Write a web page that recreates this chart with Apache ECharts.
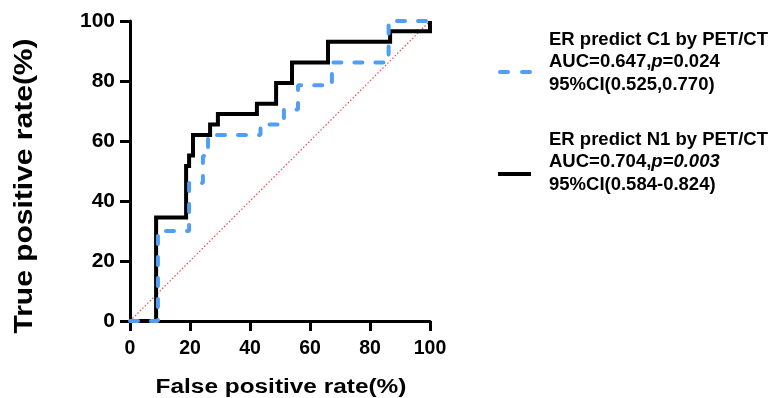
<!DOCTYPE html>
<html>
<head>
<meta charset="utf-8">
<title>ROC</title>
<script src="https://cdn.jsdelivr.net/npm/echarts@6/dist/echarts.min.js"></script>
<style>
  html, body { margin: 0; height: 100%; background: #fff; }
  #main { width: 772px; height: 398px; }
</style>
</head>
<body>
<div id="main"></div>
<script>
// ROC step points (FPR %, TPR %)
const n1Fpr = [0, 8.7, 8.7, 18.7, 18.7, 19.7, 19.7, 21, 21, 26.7, 26.7, 29.3, 29.3, 42.3, 42.3, 48.7, 48.7, 54, 54, 66, 66, 86.7, 86.7, 100, 100];
const n1Tpr = [0, 0, 34.5, 34.5, 51.7, 51.7, 55.2, 55.2, 62, 62, 65.5, 65.5, 69, 69, 72.4, 72.4, 79.3, 79.3, 86.2, 86.2, 93.1, 93.1, 96.6, 96.6, 100];
const c1Fpr = [0, 9.3, 9.3, 19.7, 19.7, 24.3, 24.3, 26, 26, 43.5, 43.5, 51.3, 51.3, 56, 56, 67.3, 67.3, 86.2, 86.2, 100];
const c1Tpr = [0, 0, 30, 30, 46, 46, 55, 55, 62, 62, 65.5, 65.5, 70.5, 70.5, 78.6, 78.6, 86.2, 86.2, 100, 100];
const refLine = [[0, 0], [100, 100]];

const legendC1 = ['ER predict C1 by PET/CT', 'AUC=0.647,{i|p}=0.024', '95%CI(0.525,0.770)'];
const legendN1 = ['ER predict N1 by PET/CT', 'AUC=0.704,{i|p=0.003}', '95%CI(0.584-0.824)'];

const FONT = '"Liberation Sans", Arial, sans-serif';
const BLUE = '#519ef4';

const zip = (xs, ys) => xs.map((x, i) => [x, ys[i]]);

function legendText(lines, top) {
    return lines.map((t, i) => ({
        type: 'text',
        x: 549,
        y: top + i * 22.5,
        style: {
            text: t,
            fill: '#000',
            font: 'bold 18.5px ' + FONT,
            textVerticalAlign: 'middle',
            rich: {
                i: { fontStyle: 'italic', fontWeight: 'bold', fontSize: 18.5, fontFamily: FONT, fill: '#000' }
            }
        }
    }));
}

const chart = echarts.init(document.getElementById('main'));

const axisCommon = {
    type: 'value',
    min: 0,
    max: 100,
    interval: 20,
    splitLine: { show: false },
    axisLine: { show: true, lineStyle: { color: '#000', width: 3 } },
    axisTick: { show: true, length: 10, lineStyle: { color: '#000', width: 3 } }
};

chart.setOption({
    animation: false,
    grid: { left: 130, right: 342, top: 21, bottom: 77 },
    xAxis: Object.assign({}, axisCommon, {
        axisLabel: { color: '#000', fontWeight: 'bold', fontSize: 19.5, fontFamily: FONT, margin: 18 }
    }),
    yAxis: Object.assign({}, axisCommon, {
        axisLabel: { color: '#000', fontWeight: 'bold', fontSize: 21, fontFamily: FONT, margin: 15 }
    }),
    series: [
        {
            type: 'line',
            data: refLine,
            symbol: 'none',
            silent: true,
            lineStyle: { color: '#f04a4a', width: 1.2, type: [1.5, 2] },
            z: 1
        },
        {
            name: 'N1',
            type: 'line',
            data: zip(n1Fpr, n1Tpr),
            symbol: 'none',
            clip: false,
            lineStyle: { color: '#000', width: 4, join: 'miter' },
            z: 2
        },
        {
            name: 'C1',
            type: 'line',
            data: zip(c1Fpr, c1Tpr),
            symbol: 'none',
            clip: false,
            lineStyle: { color: BLUE, width: 4, type: [8, 13], cap: 'round' },
            z: 3
        }
    ],
    graphic: [
        {
            type: 'text',
            x: 281,
            y: 387,
            scaleX: 1.22,
            style: {
                text: 'False positive rate(%)',
                font: 'bold 20px ' + FONT,
                fill: '#000',
                textAlign: 'center',
                textVerticalAlign: 'middle'
            }
        },
        {
            type: 'text',
            x: 25,
            y: 186,
            rotation: Math.PI / 2,
            scaleX: 1.2,
            style: {
                text: 'True positive rate(%)',
                font: 'bold 25px ' + FONT,
                fill: '#000',
                textAlign: 'center',
                textVerticalAlign: 'middle'
            }
        },
        {
            type: 'line',
            shape: { x1: 500, y1: 72, x2: 530, y2: 72 },
            style: { stroke: BLUE, lineWidth: 4, lineDash: [8, 14], lineCap: 'round' }
        },
        {
            type: 'line',
            shape: { x1: 498, y1: 174, x2: 531, y2: 174 },
            style: { stroke: '#000', lineWidth: 4 }
        }
    ].concat(legendText(legendC1, 39.5), legendText(legendN1, 139.5))
});

window.addEventListener('resize', () => chart.resize());
</script>
</body>
</html>
